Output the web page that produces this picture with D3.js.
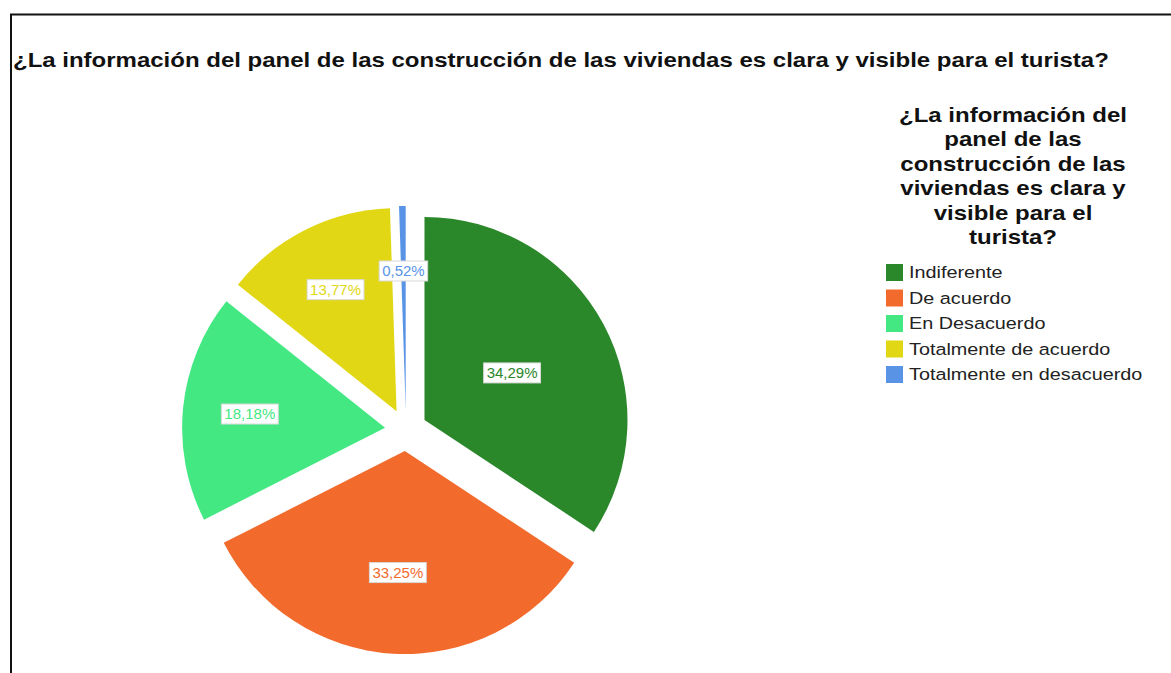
<!DOCTYPE html>
<html>
<head>
<meta charset="utf-8">
<script src="https://cdn.jsdelivr.net/npm/d3@7"></script>
<style>
  body { margin: 0; background: #fff; }
  svg { display: block; font-family: "Liberation Sans", Arial, sans-serif; }
</style>
</head>
<body>
<div id="canvas"></div>
<script>
const categories = ["Indiferente", "De acuerdo", "En Desacuerdo", "Totalmente de acuerdo", "Totalmente en desacuerdo"];
const percentages = [34.29, 33.25, 18.18, 13.77, 0.52];
const colors = ["#2a872a", "#f26a2c", "#43e882", "#e2d714", "#5893e6"];
const title = "¿La información del panel de las construcción de las viviendas es clara y visible para el turista?";
const legendTitle = ["¿La información del", "panel de las", "construcción de las", "viviendas es clara y", "visible para el", "turista?"];

const width = 1171, height = 673;
const cx = 406, cy = 430, radius = 203, explode = 21;
// label distance from the slice tip, as a share of the radius
const labelRadius = [0.49, 0.6, 0.67, 0.67, 0.68];
// the original font is drawn wider than Liberation Sans
const stretch = 1.2;

const data = categories.map((c, i) => ({ name: c, value: percentages[i], color: colors[i], k: labelRadius[i] }));

const svg = d3.select("#canvas")
    .append("svg")
    .attr("width", width)
    .attr("height", height);

// frame
svg.append("path")
    .attr("d", `M11,${height} L11,14.5 L${width},14.5`)
    .attr("fill", "none")
    .attr("stroke", "#111")
    .attr("stroke-width", 2);

svg.append("g")
    .attr("transform", `translate(13,67) scale(${stretch},1)`)
    .append("text")
    .style("font-size", "20px")
    .style("font-weight", "bold")
    .attr("fill", "#111")
    .text(title);

const pie = d3.pie().sort(null).value(d => d.value);
const arc = d3.arc().innerRadius(0).outerRadius(radius);
const arcs = pie(data);

const g = svg.append("g").attr("transform", `translate(${cx},${cy})`);

function shift(d) {
    const a = (d.startAngle + d.endAngle) / 2;
    return [Math.sin(a) * explode, -Math.cos(a) * explode];
}

const slice = g.selectAll("g.slice")
    .data(arcs)
    .enter()
    .append("g")
    .attr("class", "slice")
    .attr("transform", d => `translate(${shift(d)})`);

slice.append("path")
    .attr("d", arc)
    .attr("fill", d => d.data.color);

// labels
const fmt = v => v.toFixed(2).replace(".", ",") + "%";
const lab = slice.append("g")
    .attr("transform", d => {
        const a = (d.startAngle + d.endAngle) / 2;
        const r = radius * d.data.k;
        return `translate(${Math.sin(a) * r},${-Math.cos(a) * r})`;
    });

lab.append("text")
    .attr("text-anchor", "middle")
    .attr("dy", "0.36em")
    .style("font-size", "15px")
    .attr("fill", d => d.data.color)
    .text(d => fmt(d.data.value))
    .each(function () {
        const b = this.getBBox();
        d3.select(this.parentNode).insert("rect", "text")
            .attr("x", b.x - 3)
            .attr("y", -10)
            .attr("width", b.width + 6)
            .attr("height", 20)
            .attr("fill", "#fff")
            .attr("stroke", "#d8d8d8")
            .attr("stroke-width", 1);
    });

// legend
const legend = svg.append("g").attr("transform", "translate(886,0)");

legend.selectAll("g.lt")
    .data(legendTitle)
    .enter()
    .append("g")
    .attr("class", "lt")
    .attr("transform", (d, i) => `translate(127,${122 + i * 24.4}) scale(${stretch},1)`)
    .append("text")
    .attr("text-anchor", "middle")
    .style("font-size", "20px")
    .style("font-weight", "bold")
    .attr("fill", "#111")
    .text(d => d);

const item = legend.selectAll("g.item")
    .data(data)
    .enter()
    .append("g")
    .attr("class", "item")
    .attr("transform", (d, i) => `translate(0,${264 + i * 25.5})`);

item.append("rect")
    .attr("width", 17)
    .attr("height", 17)
    .attr("fill", d => d.color);

item.append("g")
    .attr("transform", `translate(23,14) scale(${stretch},1)`)
    .append("text")
    .style("font-size", "16.5px")
    .attr("fill", "#222")
    .text(d => d.name);
</script>
</body>
</html>
